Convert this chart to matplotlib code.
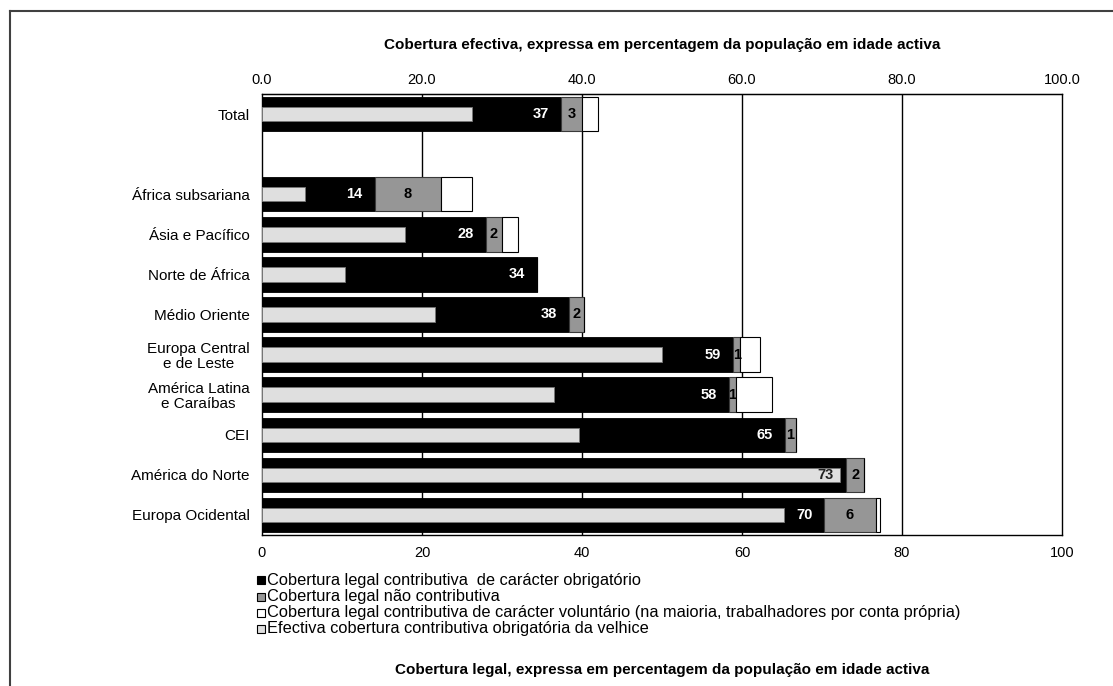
import matplotlib
matplotlib.use("Agg")
import matplotlib.pyplot as plt
from matplotlib.patches import Rectangle
from matplotlib.lines import Line2D
import numpy as np

plt.rcParams['font.family'] = ['Liberation Sans Narrow', 'Liberation Sans', 'DejaVu Sans']

# Regions (blank entry separates the total from the regional bars)
categories = ["Total", "", "África subsariana", "Ásia e Pacífico", "Norte de África",
              "Médio Oriente", "Europa Central\ne de Leste", "América Latina\ne Caraíbas",
              "CEI", "América do Norte", "Europa Ocidental"]

# Legal coverage, % of working-age population
mandatory = [37.4, np.nan, 14.1, 28.0, 34.4, 38.4, 58.9, 58.4, 65.4, 73.0, 70.3]
non_contrib = [2.6, np.nan, 8.3, 2.0, 0.0, 1.9, 0.9, 0.8, 1.3, 2.3, 6.4]
voluntary = [2.0, np.nan, 3.8, 2.0, 0.0, 0.0, 2.4, 4.6, 0.0, 0.0, 0.5]
# Effective mandatory old-age contributory coverage
effective = [26.3, np.nan, 5.4, 17.9, 10.4, 21.6, 50.0, 36.5, 39.6, 72.3, 65.2]

top_ticks = [0, 20, 40, 60, 80, 100]

legend_labels = [
    "Cobertura legal contributiva  de carácter obrigatório",
    "Cobertura legal não contributiva",
    "Cobertura legal contributiva de carácter voluntário (na maioria, trabalhadores por conta própria)",
    "Efectiva cobertura contributiva obrigatória da velhice",
]
title_top = "Cobertura efectiva, expressa em percentagem da população em idade activa"
title_bottom = "Cobertura legal, expressa em percentagem da população em idade activa"

c_black = "#000000"
c_gray = "#969696"
c_white = "#ffffff"
c_light = "#dfdfdf"

W, H = 1113, 686
fig = plt.figure(figsize=(W / 100, H / 100), dpi=100)
ax = fig.add_axes([262 / W, 1 - 535 / H, 800 / W, 441 / H])

y = np.arange(len(categories))
mand = np.array(mandatory)
nonc = np.array(non_contrib)
vol = np.array(voluntary)
eff = np.array(effective)

bh = 0.86
for xv in [20, 40, 60, 80]:
    ax.axvline(xv, color="black", lw=1.0, zorder=0)

ax.barh(y, mand, height=bh, color=c_black, edgecolor="black", lw=0.6, zorder=2)
ax.barh(y, nonc, left=mand, height=bh, color=c_gray, edgecolor="#3a3a3a", lw=0.8, zorder=2)
ax.barh(y, vol, left=mand + nonc, height=bh, color=c_white, edgecolor="black", lw=0.8, zorder=2)
ax.barh(y, eff, height=0.36, color=c_light, edgecolor="#777777", lw=0.6, zorder=3)

for i in range(len(categories)):
    if np.isnan(mand[i]):
        continue
    txt_color = "white" if eff[i] < mand[i] - 4 else "#222222"
    ax.text(mand[i] - 1.5, y[i], f"{mand[i]:.0f}", ha="right", va="center",
            color=txt_color, fontsize=10.5, fontweight="bold", zorder=4)
    if nonc[i] > 0.5:
        ax.text(mand[i] + nonc[i] / 2, y[i], f"{nonc[i]:.0f}", ha="center", va="center",
                color="black", fontsize=10.5, fontweight="bold", zorder=4)

ax.set_xlim(0, 100)
ax.set_ylim(len(categories) - 0.5, -0.5)
ax.set_yticks(y)
ax.set_yticklabels(categories, fontsize=11, linespacing=1.1)
ax.set_xticks(top_ticks)
ax.set_xticklabels([f"{t}" for t in top_ticks], fontsize=10.5)
ax.tick_params(axis="both", length=0, pad=8)
ax.tick_params(axis="y", pad=9)
for lab in ax.get_yticklabels():
    lab.set_horizontalalignment("right")
    lab.set_multialignment("center")
for sp in ax.spines.values():
    sp.set_color("black")
    sp.set_linewidth(1.0)

sec = ax.secondary_xaxis("top")
sec.set_xticks(top_ticks)
sec.set_xticklabels([f"{t:.1f}" for t in top_ticks], fontsize=10.5)
sec.tick_params(length=0, pad=5)

fig.text(662 / W, 1 - 45 / H, title_top, ha="center", va="center",
         fontsize=11, fontweight="bold")
fig.text(662 / W, 1 - 670 / H, title_bottom, ha="center", va="center",
         fontsize=11, fontweight="bold")

# Legend drawn as small squares with labels
leg_y = [580, 597, 613, 629]
leg_colors = [c_black, c_gray, c_white, c_light]
for yy, col, lab in zip(leg_y, leg_colors, legend_labels):
    fig.patches.append(Rectangle((257 / W, 1 - (yy + 4) / H), 8 / W, 8 / H,
                                 transform=fig.transFigure, facecolor=col,
                                 edgecolor="black", lw=0.8))
    fig.text(267 / W, 1 - yy / H, lab, ha="left", va="center", fontsize=11.8)

# Outer frame (top and left edges)
fig.lines.append(Line2D([10 / W, 1.0], [1 - 11 / H, 1 - 11 / H], transform=fig.transFigure,
                        color="#404040", lw=1.5))
fig.lines.append(Line2D([10 / W, 10 / W], [1 - 11 / H, 0.0], transform=fig.transFigure,
                        color="#404040", lw=1.5))

fig.savefig("out.png", dpi=100, facecolor="white")
